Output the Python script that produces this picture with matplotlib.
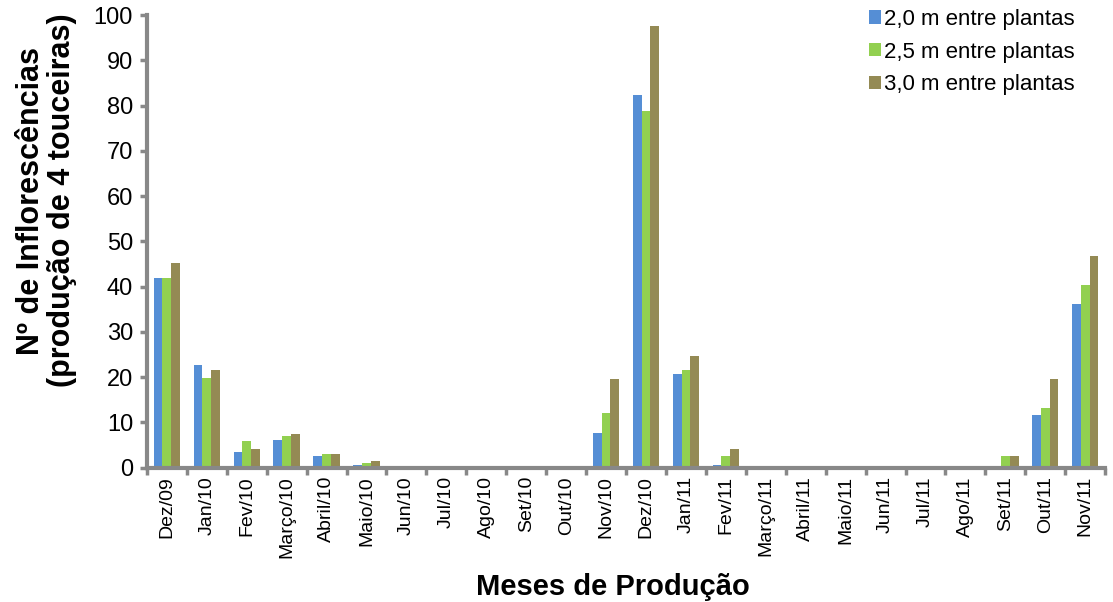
import numpy as np
import matplotlib.pyplot as plt

plt.rcParams['font.family'] = ['Liberation Sans', 'DejaVu Sans']

meses = ["Dez/09", "Jan/10", "Fev/10", "Março/10", "Abril/10", "Maio/10", "Jun/10",
         "Jul/10", "Ago/10", "Set/10", "Out/10", "Nov/10", "Dez/10", "Jan/11",
         "Fev/11", "Março/11", "Abril/11", "Maio/11", "Jun/11", "Jul/11", "Ago/11",
         "Set/11", "Out/11", "Nov/11"]

esp_2_0 = [42.0, 22.7, 3.4, 6.1, 2.6, 0.6, 0.4, 0.0, 0.4, 0.4, 0.4, 7.7, 82.3, 20.7,
           0.6, 0.4, 0.4, 0.0, 0.0, 0.0, 0.0, 0.3, 11.7, 36.1]
esp_2_5 = [42.0, 19.9, 5.8, 7.0, 3.0, 1.0, 0.4, 0.4, 0.4, 0.4, 0.4, 12.1, 78.7, 21.6,
           2.6, 0.4, 0.4, 0.0, 0.0, 0.0, 0.0, 2.6, 13.2, 40.4]
esp_3_0 = [45.2, 21.6, 4.2, 7.4, 3.0, 1.5, 0.4, 0.0, 0.4, 0.4, 0.4, 19.6, 97.6, 24.7,
           4.2, 0.4, 0.4, 0.4, 0.0, 0.0, 0.0, 2.6, 19.6, 46.7]

series = [
    ("2,0 m entre plantas", esp_2_0, "#558ED5"),
    ("2,5 m entre plantas", esp_2_5, "#92D050"),
    ("3,0 m entre plantas", esp_3_0, "#948A54"),
]

fig = plt.figure(figsize=(11.13, 6.02), dpi=100)
ax = fig.add_axes([0.132, 0.223, 0.861, 0.752])

x = np.arange(len(meses))
w = 0.22
for i, (nome, vals, cor) in enumerate(series):
    ax.bar(x + (i - 1) * w, vals, w, color=cor, linewidth=0, label=nome)

ax.set_xlim(-0.5, len(meses) - 0.5)
ax.set_ylim(0, 100)
ax.set_yticks(range(0, 101, 10))
ax.set_xticks(x)
ax.set_xticklabels(meses, rotation=90, fontsize=14)
ax.set_xticks(np.arange(-0.5, len(meses), 1), minor=True)
ax.tick_params(axis="x", which="major", length=0, pad=6)
ax.tick_params(axis="x", which="minor", length=5, width=2.5, color="#888888")
ax.tick_params(axis="y", labelsize=17, length=5, width=2.5, color="#888888", pad=5)

for lado in ["top", "right"]:
    ax.spines[lado].set_visible(False)
for lado in ["left", "bottom"]:
    ax.spines[lado].set_color("#888888")
    ax.spines[lado].set_linewidth(3)

ax.set_ylabel("Nº de Inflorescências\n(produção de 4 touceiras)", fontsize=22,
              fontweight="bold", linespacing=1.05)
ax.yaxis.set_label_coords(-0.073, 0.59)
ax.set_xlabel("Meses de Produção", fontsize=21, fontweight="bold")
ax.xaxis.set_label_coords(0.486, -0.232)

fig.legend(loc="upper left", bbox_to_anchor=(0.781, 0.985), frameon=False, fontsize=16,
           borderaxespad=0, borderpad=0, handlelength=0.55, handleheight=0.55,
           handletextpad=0.12, labelspacing=0.52)

fig.savefig("out.png", dpi=100)
